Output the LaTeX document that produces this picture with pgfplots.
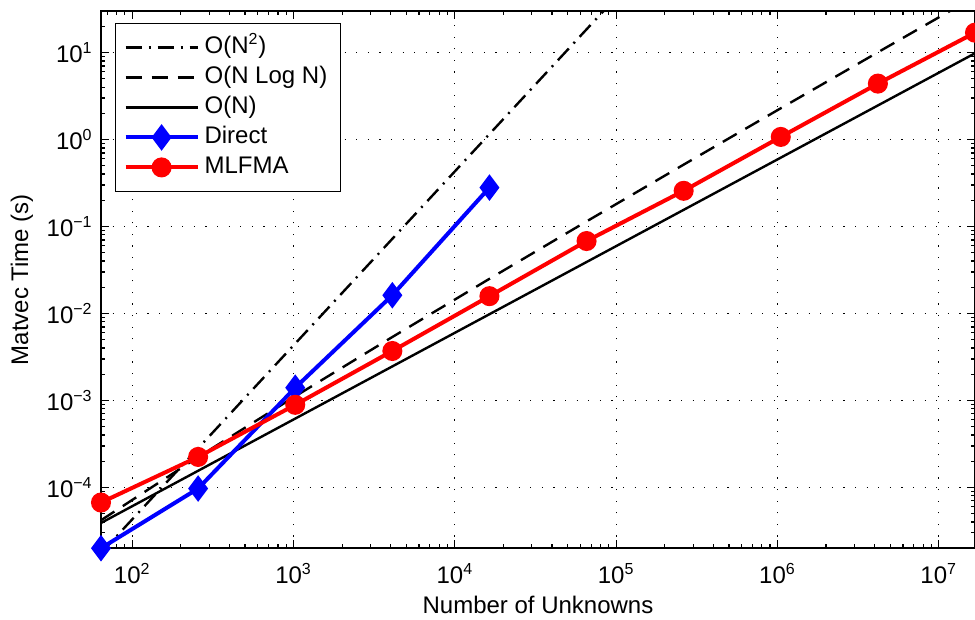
\documentclass[border=0pt]{standalone}
\usepackage{fontspec}
\setmainfont{Liberation Sans}
\usepackage{pgfplots}
\pgfplotsset{compat=1.18}

\definecolor{mred}{RGB}{255,0,0}
\definecolor{mblue}{RGB}{0,0,255}

\begin{document}
\fontsize{12}{14}\selectfont
\begin{tikzpicture}
\begin{loglogaxis}[
  scale only axis,
  width=437pt, height=268.6pt,
  xmin=64, xmax=16777216,
  ymin=2e-5, ymax=30,
  xtick={1e2,1e3,1e4,1e5,1e6,1e7},
  xticklabels={10\textsuperscript{2},10\textsuperscript{3},10\textsuperscript{4},10\textsuperscript{5},10\textsuperscript{6},10\textsuperscript{7}},
  minor xtick={70,80,90,200,300,400,500,600,700,800,900,
    2000,3000,4000,5000,6000,7000,8000,9000,
    20000,30000,40000,50000,60000,70000,80000,90000,
    200000,300000,400000,500000,600000,700000,800000,900000,
    2e6,3e6,4e6,5e6,6e6,7e6,8e6,9e6},
  ytick={1e-4,1e-3,1e-2,1e-1,1,10},
  yticklabels={10\textsuperscript{−4},10\textsuperscript{−3},10\textsuperscript{−2},10\textsuperscript{−1},10\textsuperscript{0},10\textsuperscript{1}},
  minor ytick={3e-5,4e-5,5e-5,6e-5,7e-5,8e-5,9e-5,
    2e-4,3e-4,4e-4,5e-4,6e-4,7e-4,8e-4,9e-4,
    2e-3,3e-3,4e-3,5e-3,6e-3,7e-3,8e-3,9e-3,
    2e-2,3e-2,4e-2,5e-2,6e-2,7e-2,8e-2,9e-2,
    0.2,0.3,0.4,0.5,0.6,0.7,0.8,0.9,
    2,3,4,5,6,7,8,9,20},
  xticklabel style={yshift=-3.5pt},
  axis line style={line width=0.8pt},
  tick style={black, line width=0.6pt},
  major tick length=4pt, minor tick length=2pt,
  grid=major,
  major grid style={black, line width=0.6pt, dash pattern=on 0.6pt off 5.2pt},
  xlabel={Number of Unknowns},
  ylabel={Matvec Time (s)},
  every axis x label/.style={at={(axis description cs:0.5,-0.106)}, anchor=center},
  every axis y label/.style={at={(axis description cs:-0.0904,0.5)}, anchor=center, rotate=90},
  clip mode=individual,
  legend cell align=left,
  legend style={at={(0.016,0.978)}, anchor=north west, draw=black, line width=0.6pt,
    fill=white, inner xsep=4pt, inner ysep=4.5pt, row sep=0pt,
    nodes={inner xsep=2.5pt, inner ysep=1.5pt, text height=9pt, text depth=3pt}},
  legend image code/.code={\draw[mark repeat=2,mark phase=2,#1] plot coordinates {(0pt,0pt) (18pt,0pt) (36pt,0pt)};},
]
% O(N^2)
\addplot[black, line width=1.2pt, dash pattern=on 8pt off 3.5pt on 1pt off 3.5pt] coordinates {
  (64,1.76e-5) (262144,295.5)
};
\addlegendentry{O(N\textsuperscript{2})}
% O(N log N)
\addplot[black, line width=1.2pt, dash pattern=on 8pt off 5pt] coordinates {
  (64,4.19e-5) (256,2.23e-4) (1024,1.116e-3) (4096,5.36e-3) (16384,2.50e-2)
  (65536,0.1143) (262144,0.514) (1048576,2.286) (4194304,10.06) (16777216,43.9)
};
\addlegendentry{O(N Log N)}
% O(N)
\addplot[black, line width=1.2pt] coordinates {
  (64,3.9e-5) (16777216,9.8)
};
\addlegendentry{O(N)}
% Direct
\addplot[mblue, line width=2pt, mark=diamond*, mark size=5pt, mark options={solid, fill=mblue}] coordinates {
  (64,2.0e-5) (256,9.7e-5) (1024,1.4e-3) (4096,1.62e-2) (16384,0.28)
};
\addlegendentry{Direct}
% MLFMA
\addplot[mred, line width=2pt, mark=*, mark size=4pt, mark options={solid, fill=mred}] coordinates {
  (64,6.7e-5) (256,2.24e-4) (1024,8.9e-4) (4096,3.7e-3) (16384,1.58e-2)
  (65536,6.8e-2) (262144,0.257) (1048576,1.07) (4194304,4.39) (16777216,16.9)
};
\addlegendentry{MLFMA}
\end{loglogaxis}
\pgfresetboundingbox
\path[use as bounding box] ([xshift=-50.5pt,yshift=-35.9pt]current axis.south west) rectangle ([yshift=5.5pt]current axis.north east);
\end{tikzpicture}
\end{document}
